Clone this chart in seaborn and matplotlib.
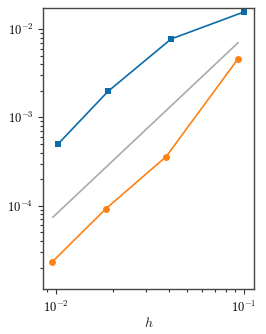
import numpy as np
import pandas as pd
import seaborn as sns
import matplotlib
matplotlib.use("Agg")
import matplotlib.pyplot as plt

# data
h_sq = [0.0102, 0.0189, 0.0409, 0.100]
err_sq = [4.95e-4, 1.97e-3, 7.7e-3, 1.56e-2]
h_ci = [0.00956, 0.01845, 0.0385, 0.0929]
err_ci = [2.33e-5, 9.3e-5, 3.6e-4, 4.6e-3]
h_ref = [0.0096, 0.093]
err_ref = [7.4e-5, 7.0e-3]

sns.set_theme(style="ticks")
plt.rcParams["mathtext.fontset"] = "cm"
plt.rcParams["font.family"] = ["DejaVu Serif"]

blue = "#0a6ca8"
orange = "#ff8214"

fig, ax = plt.subplots(figsize=(2.66, 3.34), dpi=100)
sns.lineplot(x=h_sq, y=err_sq, ax=ax, color=blue, marker="s", markersize=5,
             markeredgewidth=0, linewidth=1.2)
sns.lineplot(x=h_ci, y=err_ci, ax=ax, color=orange, marker="o", markersize=5,
             markeredgewidth=0, linewidth=1.2)
sns.lineplot(x=h_ref, y=err_ref, ax=ax, color="#aaaaaa", linewidth=1.2)

ax.set_xscale("log")
ax.set_yscale("log")
ax.set_xlim(10**-2.069, 10**-0.947)
ax.set_ylim(10**-4.94, 10**-1.763)
ax.set_xlabel("$h$", fontsize=10, labelpad=1)
ax.set_xticks([1e-2, 1e-1])
ax.set_xticklabels(["$10^{-2}$", "$10^{-1}$"])
ax.set_yticks([1e-4, 1e-3, 1e-2])
ax.set_yticklabels(["$10^{-4}$", "$10^{-3}$", "$10^{-2}$"])
ax.tick_params(which="both", direction="out", length=3.5, width=0.8,
               colors="#333333", labelcolor="black", labelsize=9)
ax.tick_params(axis="x", which="major", pad=4.5)
ax.tick_params(which="minor", length=2)
for s in ax.spines.values():
    s.set_color("#444444")
    s.set_linewidth(1.0)

fig.subplots_adjust(left=0.162, right=0.955, top=0.976, bottom=0.135)
fig.savefig("out.png", dpi=100)
